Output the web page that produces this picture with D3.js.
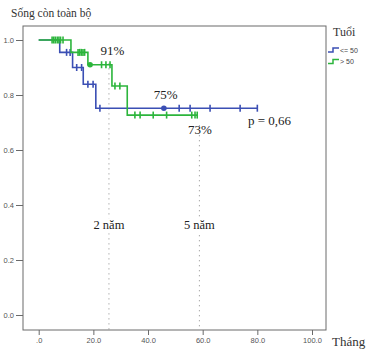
<!DOCTYPE html>
<html>
<head>
<meta charset="utf-8">
<script src="https://cdn.jsdelivr.net/npm/d3@7"></script>
<style>
  html, body { margin: 0; padding: 0; background: #fff; }
  svg { display: block; }
</style>
</head>
<body>
<svg id="chart" width="366" height="349"></svg>
<script>
// Kaplan–Meier overall survival by age group
const groups = ["<= 50", "> 50"];
const groupColors = ["#3b4fb4", "#2cb53c"];

// group <= 50
const youngEventTimes = [0, 7.7, 12.4, 16.3, 20.9];
const youngSurvival   = [1.0, 0.955, 0.90, 0.839, 0.752];
const youngEndTime = 80.0;
const youngCensorTimes = [10.2, 11.5, 13.9, 15.7, 18.0, 19.9, 22.4, 51.4, 55.4, 62.7, 73.7, 80.0];
const youngDotTimes = [45.8];

// group > 50
const oldEventTimes = [0, 11.8, 18.0, 26.8, 32.4];
const oldSurvival   = [1.0, 0.955, 0.91, 0.833, 0.727];
const oldEndTime = 58.3;
const oldCensorTimes = [4.9, 5.5, 6.1, 6.8, 7.4, 8.0, 8.9, 14.4, 15.0, 15.6, 16.2, 16.8, 23.0, 24.6, 26.1, 27.9, 29.7, 35.2, 37.1, 41.9, 46.8, 56.0, 57.2, 58.0];
const oldDotTimes = [18.8];

const xTicks = [0, 20, 40, 60, 80, 100];
const xTickLabels = [".0", "20.0", "40.0", "60.0", "80.0", "100.0"];
const yTicks = [0, 0.2, 0.4, 0.6, 0.8, 1.0];
const yTickLabels = ["0.0", "0.2", "0.4", "0.6", "0.8", "1.0"];

// milestone markers (months) and annotations
const milestoneTimes = [25.7, 58.8];
const milestoneLabels = ["2 năm", "5 năm"];
const milestoneTop = [0.915, 0.69];
const pctLabels = [
  { text: "91%", t: 27.0, s: 0.91, dy: -10 },
  { text: "75%", t: 46.5, s: 0.752, dy: -9 },
  { text: "73%", t: 59.0, s: 0.727, dy: 19 }
];
const pValueText = "p = 0,66";

const svg = d3.select("#chart");
const x = d3.scaleLinear().domain([0, 100]).range([38.7, 312]);
const y = d3.scaleLinear().domain([0, 1]).range([315, 40]);

const frame = { left: 23, top: 26, right: 326, bottom: 330 };
const axisColor = "#6a6a6a";
const serif = "'Liberation Serif', 'Times New Roman', serif";
const sans = "'Liberation Sans', Arial, sans-serif";

// frame
svg.append("rect")
  .attr("x", frame.left).attr("y", frame.top)
  .attr("width", frame.right - frame.left).attr("height", frame.bottom - frame.top)
  .attr("fill", "none").attr("stroke", axisColor).attr("stroke-width", 1);

// y axis
const yAxis = d3.axisLeft(y).tickValues(yTicks)
  .tickFormat((d, i) => yTickLabels[i]).tickSize(7).tickPadding(2);
const yg = svg.append("g").attr("transform", `translate(${frame.left},0)`).call(yAxis);
yg.select(".domain").remove();
yg.selectAll("line").attr("stroke", axisColor);
yg.selectAll("text").attr("font-family", sans).attr("font-size", 7.5).attr("fill", "#555");

// x axis
const xAxis = d3.axisBottom(x).tickValues(xTicks)
  .tickFormat((d, i) => xTickLabels[i]).tickSize(5).tickPadding(3);
const xg = svg.append("g").attr("transform", `translate(0,${frame.bottom})`).call(xAxis);
xg.select(".domain").remove();
xg.selectAll("line").attr("stroke", axisColor);
xg.selectAll("text").attr("font-family", sans).attr("font-size", 7.5).attr("fill", "#555");

// milestone dotted lines with labels
milestoneTimes.forEach((t, i) => {
  svg.append("line")
    .attr("x1", x(t)).attr("x2", x(t))
    .attr("y1", y(milestoneTop[i])).attr("y2", frame.bottom)
    .attr("stroke", "#8a8a8a").attr("stroke-width", 1)
    .attr("stroke-dasharray", "1,4");
  const ty = y(0.312);
  svg.append("rect")
    .attr("x", x(t) - 19).attr("y", ty - 11)
    .attr("width", 38).attr("height", 15).attr("fill", "#fff");
  svg.append("text")
    .attr("x", x(t)).attr("y", ty)
    .attr("text-anchor", "middle")
    .attr("font-family", serif).attr("font-size", 12.5).attr("fill", "#222")
    .text(milestoneLabels[i]);
});

// step path for a KM curve
function stepPath(times, surv, end) {
  const pts = [];
  times.forEach((t, i) => {
    if (i > 0) pts.push([t, surv[i - 1]]);
    pts.push([t, surv[i]]);
  });
  pts.push([end, surv[surv.length - 1]]);
  return d3.line().x(d => x(d[0])).y(d => y(d[1]))(pts);
}
function survAt(times, surv, t) {
  let s = surv[0];
  times.forEach((tt, i) => { if (tt <= t) s = surv[i]; });
  return s;
}

const curves = [
  { times: youngEventTimes, surv: youngSurvival, end: youngEndTime, cens: youngCensorTimes, dots: youngDotTimes, color: groupColors[0] },
  { times: oldEventTimes, surv: oldSurvival, end: oldEndTime, cens: oldCensorTimes, dots: oldDotTimes, color: groupColors[1] }
];

curves.forEach(c => {
  const g = svg.append("g");
  g.append("path")
    .attr("d", stepPath(c.times, c.surv, c.end))
    .attr("fill", "none").attr("stroke", c.color).attr("stroke-width", 1.6);
  g.selectAll("line.cens").data(c.cens).join("line")
    .attr("class", "cens")
    .attr("x1", d => x(d)).attr("x2", d => x(d))
    .attr("y1", d => y(survAt(c.times, c.surv, d)) - 3.5)
    .attr("y2", d => y(survAt(c.times, c.surv, d)) + 3.5)
    .attr("stroke", c.color).attr("stroke-width", 1.6);
  g.selectAll("circle.dot").data(c.dots).join("circle")
    .attr("class", "dot")
    .attr("cx", d => x(d)).attr("cy", d => y(survAt(c.times, c.surv, d)))
    .attr("r", 2.8).attr("fill", c.color);
});

// percentage annotations
pctLabels.forEach(p => {
  svg.append("text")
    .attr("x", x(p.t)).attr("y", y(p.s) + p.dy)
    .attr("text-anchor", "middle")
    .attr("font-family", serif).attr("font-size", 13).attr("fill", "#222")
    .text(p.text);
});
svg.append("text")
  .attr("x", 248).attr("y", 125)
  .attr("font-family", serif).attr("font-size", 13).attr("fill", "#222")
  .text(pValueText);

// titles
svg.append("text")
  .attr("x", 11).attr("y", 17)
  .attr("font-family", serif).attr("font-size", 11.5).attr("fill", "#333")
  .text("Sống còn toàn bộ");
svg.append("text")
  .attr("x", 332).attr("y", 346)
  .attr("font-family", serif).attr("font-size", 13).attr("fill", "#333")
  .text("Tháng");

// legend
svg.append("text")
  .attr("x", 333).attr("y", 36)
  .attr("font-family", serif).attr("font-size", 12).attr("fill", "#333")
  .text("Tuổi");
groups.forEach((gname, i) => {
  const ly = 50 + i * 11.5;
  svg.append("path")
    .attr("d", `M328,${ly + 2} H333 V${ly - 2} H339`)
    .attr("fill", "none").attr("stroke", groupColors[i]).attr("stroke-width", 1.5);
  svg.append("text")
    .attr("x", 340).attr("y", ly + 2.5)
    .attr("font-family", sans).attr("font-size", 7).attr("fill", "#444")
    .text(gname);
});
</script>
</body>
</html>
